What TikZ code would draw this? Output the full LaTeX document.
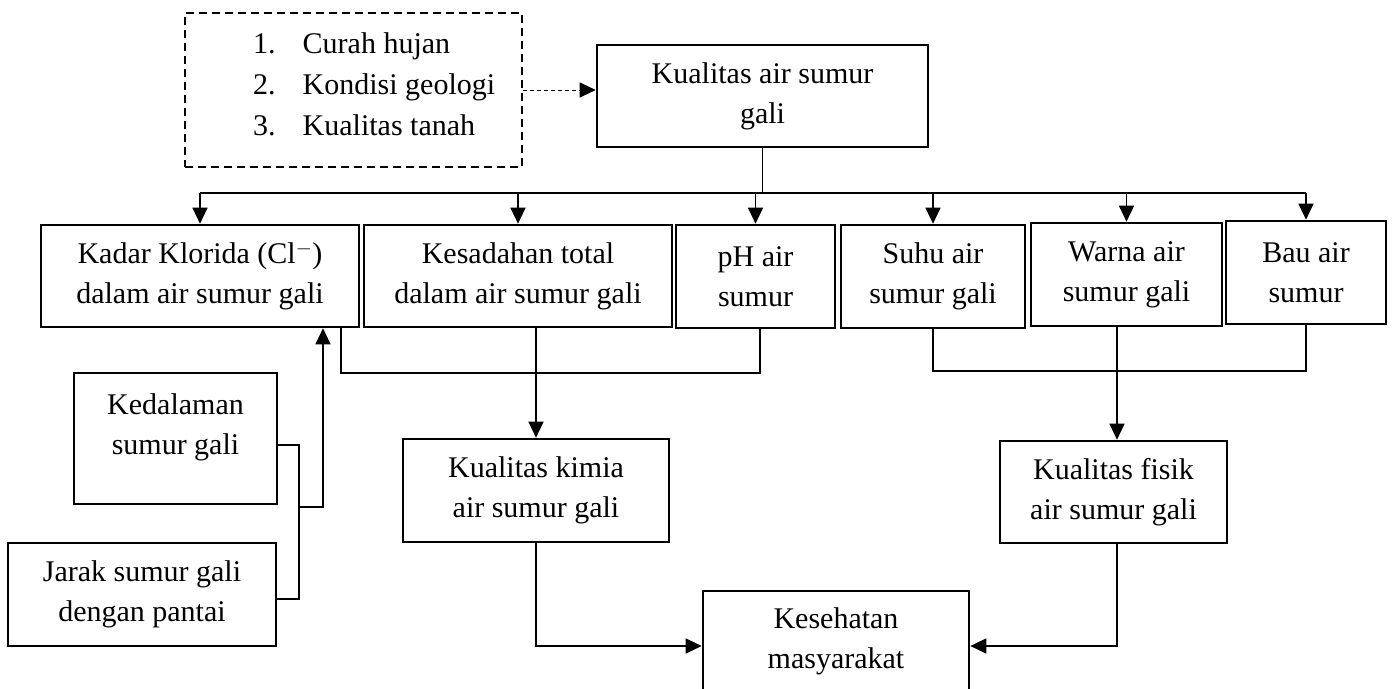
\documentclass[tikz,border=0pt]{standalone}
\usepackage{fontspec}
\setmainfont{Liberation Serif}
\usetikzlibrary{arrows.meta}
\begin{document}
\begin{tikzpicture}[x=1pt,y=-1pt,
  font=\fontsize{30}{40}\selectfont,
  box/.style={draw, line width=2.6pt, inner sep=0pt, align=center},
  conn/.style={line width=1.2pt},
  arr/.style={conn, -{Triangle[length=16pt,width=15pt]}},
]
\useasboundingbox (0,0) rectangle (1392,688);

% boxes
\node[box, minimum width=331pt, minimum height=102pt] (top) at (762.5,96) {Kualitas air sumur\\gali};
\node[box, dash pattern=on 8pt off 5pt, minimum width=337pt, minimum height=154pt] (dashbox) at (353.5,90) {};
\node[anchor=west, inner sep=0pt, font=\fontsize{30}{41}\selectfont] (list) at (253,86)
  {\begin{tabular}{@{}l@{\hspace{27pt}}l@{}}1.&Curah hujan\\2.&Kondisi geologi\\3.&Kualitas tanah\end{tabular}};

\node[box, minimum width=318pt, minimum height=102pt] (kadar) at (200,276) {Kadar Klorida (Cl$^{-}$)\\dalam air sumur gali};
\node[box, minimum width=308pt, minimum height=102pt] (kesad) at (518,276) {Kesadahan total\\dalam air sumur gali};
\node[box, minimum width=159pt, minimum height=103pt] (ph) at (755.5,276.5) {pH air\\sumur};
\node[box, minimum width=184pt, minimum height=103pt] (suhu) at (933,276.5) {Suhu air\\sumur gali};
\node[box, minimum width=191pt, minimum height=103pt] (warna) at (1126.5,274.5) {Warna air\\sumur gali};
\node[box, minimum width=160pt, minimum height=103pt] (bau) at (1306,272.5) {Bau air\\sumur};

\node[box, minimum width=203pt, minimum height=131pt] (kedal) at (175.5,438.5) {};
\node[align=center, inner sep=0pt] (kedaltext) at (175.5,427.5) {Kedalaman\\sumur gali};
\node[box, minimum width=268pt, minimum height=103pt] (jarak) at (142,594.5) {Jarak sumur gali\\dengan pantai};

\node[box, minimum width=266pt, minimum height=103pt] (kimia) at (536,490.5) {Kualitas kimia\\air sumur gali};
\node[box, minimum width=227pt, minimum height=102pt] (fisik) at (1113.5,492) {Kualitas fisik\\air sumur gali};
\node[box, minimum width=266pt, minimum height=101pt] (kes) at (836,641.5) {Kesehatan\\masyarakat};

% dashed influence arrow
\draw[line width=1pt, dash pattern=on 4pt off 3pt, -{Triangle[length=16pt,width=15pt]}] (dashbox.east) -- (dashbox.east -| top.west);

% top distribution
\coordinate (tj) at (762.5,193);
\draw[conn] (top.south) -- (tj);
\draw[conn] (kadar.north |- tj) -- (bau.north |- tj);
\foreach \n in {kadar,kesad,ph,suhu,warna,bau} \draw[arr] (\n.north |- tj) -- (\n.north);

% chemical group
\coordinate (cj) at (0,373);
\coordinate (kx) at (341,0);
\coordinate (px) at (760,0);
\draw[conn] (kadar.south -| kx) -- (kx |- cj) -- (px |- cj) -- (ph.south -| px);
\draw[arr] (kesad.south -| kimia.north) -- (kimia.north);

% physical group
\coordinate (pj) at (0,371);
\coordinate (fx) at (1117,0);
\draw[conn] (suhu.south) -- (suhu.south |- pj) -- (bau.south |- pj) -- (bau.south);
\draw[arr] (warna.south -| fx) -- (fisik.north -| fx);

% to health
\coordinate (bj) at (0,646);
\draw[arr] (kimia.south) -- (kimia.south |- bj) -- (kes.west |- bj);
\draw[arr] (fisik.south -| fx) -- (fx |- bj) -- (kes.east |- bj);

% depth and distance to chloride
\coordinate (ky) at (0,445);
\coordinate (jy) at (0,599);
\coordinate (my) at (0,507);
\coordinate (lx) at (299,0);
\coordinate (ax) at (323,0);
\draw[conn] (kedal.east |- ky) -- (lx |- ky) -- (lx |- jy) -- (jarak.east |- jy);
\draw[arr] (lx |- my) -- (ax |- my) -- (kadar.south -| ax);
\end{tikzpicture}
\end{document}
